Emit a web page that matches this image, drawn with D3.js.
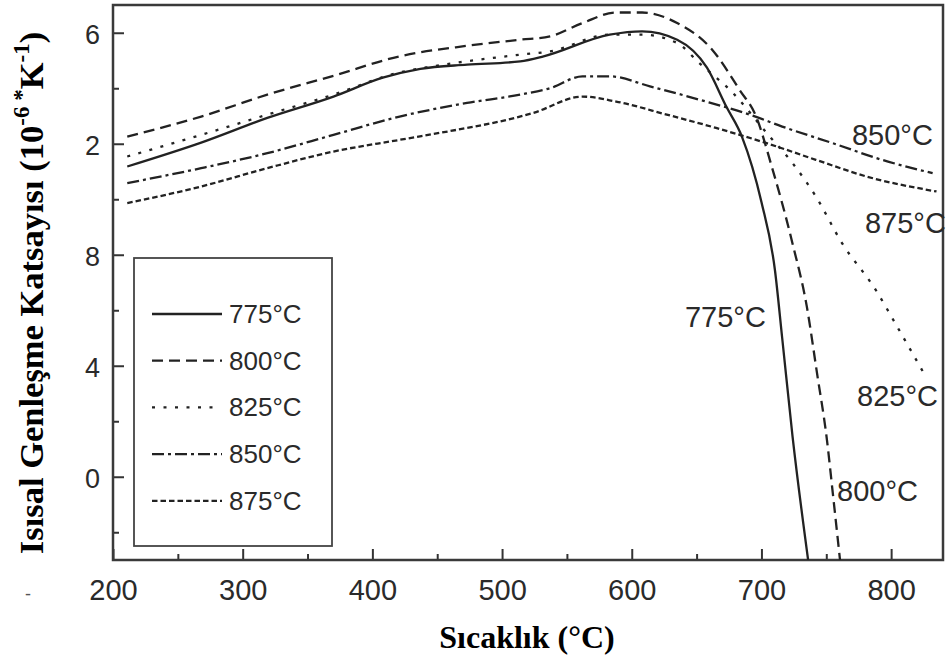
<!DOCTYPE html>
<html>
<head>
<meta charset="utf-8">
<script src="https://cdn.jsdelivr.net/npm/d3@7"></script>
<style>
  body { margin: 0; background: #fff; }
  svg { display: block; }
</style>
</head>
<body>
<svg id="chart" width="948" height="664"></svg>
<script>
// ---------- data (temperature °C, coefficient value) ----------
const seriesNames = ["775°C", "800°C", "825°C", "850°C", "875°C"];

const s775 = [[211,11.18],[268,12.04],[319,12.93],[370,13.70],[408,14.38],[437,14.70],[473,14.85],[514,14.97],[532,15.15],[583,15.93],[608,16.05],[635,15.75],[658,14.74],[673,13.33],[685,12.25],[700,9.9],[710.4,7.45],[716,5.0],[724,1.45],[736,-3]];
const s800 = [[211,12.26],[268,12.98],[319,13.77],[370,14.45],[421,15.15],[473,15.53],[514,15.75],[537,15.87],[562,16.35],[588,16.73],[608,16.73],[635,16.35],[662,15.39],[683,13.95],[696,12.97],[708,11.17],[724,8.4],[735,6.13],[742.8,3.75],[750.5,1.33],[755,-0.58],[760.6,-3]];
const s825 = [[211,11.54],[268,12.32],[319,13.05],[370,13.77],[421,14.57],[447,14.79],[514,15.21],[537,15.33],[583,15.93],[608,15.93],[635,15.63],[652,14.91],[678,13.83],[704,12.39],[724,11.3],[742,10.1],[762,8.43],[788,6.74],[806,5.30],[825,3.75]];
const s850 = [[211,10.58],[268,11.12],[319,11.66],[370,12.32],[421,12.98],[473,13.47],[514,13.77],[537,14.0],[562,14.43],[583,14.43],[614,14.07],[652,13.59],[691,13.05],[716,12.62],[755,12.02],[793,11.42],[832,10.94]];
const s875 = [[211,9.86],[268,10.46],[319,11.12],[370,11.72],[421,12.14],[473,12.57],[498,12.80],[524,13.11],[562,13.70],[588,13.52],[627,13.05],[665,12.57],[704,12.02],[742,11.42],[781,10.82],[835,10.28]];

const xTickValues = [200, 300, 400, 500, 600, 700, 800];
const xTickLabels = ["200", "300", "400", "500", "600", "700", "800"];
const xMinorValues = [250, 350, 450, 550, 650, 750];
const yTickValues = [16, 12, 8, 4, 0];
const yTickLabels = ["6", "2", "8", "4", "0"];
const yMinorValues = [14, 10, 6, 2, -2];

// in-plot curve annotations (data units)
const annoText = ["850°C", "875°C", "775°C", "825°C", "800°C"];
const annoT    = [769.8, 779.8, 641, 773.7, 758.3];
const annoV    = [11.95, 8.78, 5.40, 2.55, -0.87];

// ---------- layout ----------
const svg = d3.select("#chart");
const L = 113, R = 943, T = 5, B = 560;
const x = d3.scaleLinear().domain([200, 840]).range([L, R]);
const y = d3.scaleLinear().domain([-3, 17]).range([B, T]);

const ink = "#222";
const styles = [
  { dash: null },
  { dash: "11,6" },
  { dash: "3,8.5" },
  { dash: "12,4,3,4" },
  { dash: "5.5,3" }
];
const allSeries = [s775, s800, s825, s850, s875];

svg.append("defs").append("clipPath").attr("id", "plotclip")
  .append("rect").attr("x", L).attr("y", T).attr("width", R - L).attr("height", B - T);

// axes
const gx = svg.append("g").attr("transform", `translate(0,${B})`)
  .call(d3.axisBottom(x).tickValues(xTickValues)
    .tickFormat((d, i) => xTickLabels[i]).tickSizeInner(-11).tickSizeOuter(0).tickPadding(12));
const gxm = svg.append("g").attr("transform", `translate(0,${B})`)
  .call(d3.axisBottom(x).tickValues(xMinorValues).tickFormat("").tickSizeInner(-6).tickSizeOuter(0));
const gy = svg.append("g").attr("transform", `translate(${L},0)`)
  .call(d3.axisLeft(y).tickValues(yTickValues)
    .tickFormat((d, i) => yTickLabels[i]).tickSizeInner(-11).tickSizeOuter(0).tickPadding(13));
const gym = svg.append("g").attr("transform", `translate(${L},0)`)
  .call(d3.axisLeft(y).tickValues(yMinorValues).tickFormat("").tickSizeInner(-6).tickSizeOuter(0));

[gx, gxm, gy, gym].forEach(g => {
  g.select(".domain").remove();
  g.selectAll(".tick line").attr("stroke", "#333").attr("stroke-width", 2);
});
gx.selectAll(".tick text").attr("font-family", "Liberation Sans, Arial, sans-serif")
  .attr("font-size", 29).attr("fill", "#2a2a2a").attr("dy", "0.95em");
gy.selectAll(".tick text").attr("font-family", "Liberation Sans, Arial, sans-serif")
  .attr("font-size", 27).attr("fill", "#2a2a2a").attr("dy", "0.4em");

// frame
svg.append("rect").attr("x", L).attr("y", T).attr("width", R - L).attr("height", B - T)
  .attr("fill", "none").attr("stroke", "#3a3a3a").attr("stroke-width", 2.5);

// lines
const line = d3.line().x(d => x(d[0])).y(d => y(d[1])).curve(d3.curveMonotoneX);
const plot = svg.append("g").attr("clip-path", "url(#plotclip)");
allSeries.forEach((s, i) => {
  plot.append("path").datum(s).attr("d", line)
    .attr("fill", "none").attr("stroke", ink).attr("stroke-width", 2.3)
    .attr("stroke-dasharray", styles[i].dash);
});

// annotations
annoText.forEach((t, i) => {
  svg.append("text").attr("x", x(annoT[i])).attr("y", y(annoV[i]))
    .attr("font-family", "Liberation Sans, Arial, sans-serif").attr("font-size", 29)
    .attr("fill", "#2a2a2a").text(t);
});

// legend
const lg = svg.append("g");
lg.append("rect").attr("x", 134).attr("y", 258).attr("width", 198).attr("height", 288)
  .attr("fill", "#fff").attr("stroke", "#444").attr("stroke-width", 1.8);
seriesNames.forEach((n, i) => {
  const cy = 314 + i * 46.7;
  lg.append("line").attr("x1", 152).attr("x2", i === 2 ? 216 : 222).attr("y1", cy).attr("y2", cy)
    .attr("stroke", ink).attr("stroke-width", 2.3).attr("stroke-dasharray", styles[i].dash);
  lg.append("text").attr("x", 229).attr("y", cy + 9)
    .attr("font-family", "Liberation Sans, Arial, sans-serif").attr("font-size", 26)
    .attr("fill", "#2a2a2a").text(n);
});

// axis titles
svg.append("text").attr("x", 527).attr("y", 648).attr("text-anchor", "middle")
  .attr("font-family", "Liberation Serif, Times New Roman, serif").attr("font-weight", "bold")
  .attr("font-size", 32).attr("fill", "#000").text("Sıcaklık (°C)");

const yt = svg.append("text").attr("transform", "translate(43,293) rotate(-90)")
  .attr("text-anchor", "middle")
  .attr("font-family", "Liberation Serif, Times New Roman, serif").attr("font-weight", "bold")
  .attr("font-size", 34.5).attr("fill", "#000");
yt.append("tspan").text("Isısal Genleşme Katsayısı (10");
yt.append("tspan").attr("font-size", 23).attr("dy", -14).text("-6 *");
yt.append("tspan").attr("dy", 14).text("K");
yt.append("tspan").attr("font-size", 23).attr("dy", -14).text("-1");
yt.append("tspan").attr("dy", 14).text(")");

// small stray mark at lower-left
svg.append("text").attr("x", 28).attr("y", 600).attr("text-anchor", "middle")
  .attr("font-family", "Liberation Sans, Arial, sans-serif").attr("font-size", 18)
  .attr("fill", "#555").text("-");
</script>
</body>
</html>
